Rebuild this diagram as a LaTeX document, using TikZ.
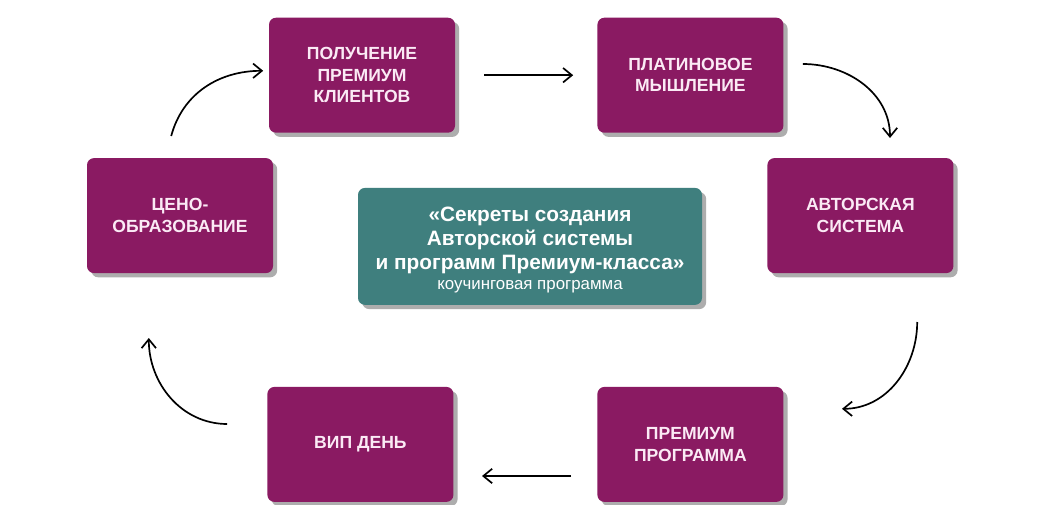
\documentclass[tikz,border=0pt]{standalone}
\usepackage{fontspec}
\setmainfont{Liberation Sans}
\usetikzlibrary{arrows.meta,shadows}
\definecolor{stepPurple}{HTML}{8A1A62}
\definecolor{coreTeal}{HTML}{3F7F7E}
\definecolor{cardText}{HTML}{FBEAF5}

\begin{document}
\begin{tikzpicture}[
  >=Straight Barb,
  stageCard/.style={rounded corners=5pt, fill=stepPurple, minimum width=4.65cm, minimum height=2.875cm,
    align=center, text=cardText, font=\fontsize{12.5}{15.2}\selectfont\bfseries,
    drop shadow={shadow xshift=3pt, shadow yshift=-3pt, fill=black!40, opacity=0.8}},
  coreCard/.style={stageCard, fill=coreTeal, minimum width=8.6cm, minimum height=2.925cm},
  coreTitle/.style={align=center, text=white, font=\fontsize{14.8}{16.8}\selectfont\bfseries},
  flow/.style={line width=1.2pt, draw=black, arrows={-{Straight Barb[length=2.2mm, width=3.6mm]}}}
]
\useasboundingbox[fill=white] (0,0) rectangle (26.4,12.6);

\node[stageCard] (clients) at (9.05,10.72) {ПОЛУЧЕНИЕ\\ПРЕМИУМ\\КЛИЕНТОВ};
\node[stageCard] (platinum) at (17.26,10.72) {ПЛАТИНОВОЕ\\МЫШЛЕНИЕ};
\node[stageCard] (author) at (21.51,7.21) {АВТОРСКАЯ\\СИСТЕМА};
\node[stageCard] (premium) at (17.26,1.49) {ПРЕМИУМ\\ПРОГРАММА};
\node[stageCard] (vipday) at (9.01,1.49) {ВИП ДЕНЬ};
\node[stageCard] (pricing) at (4.5,7.21) {ЦЕНО-\\ОБРАЗОВАНИЕ};

\node[coreCard] (core) at (13.25,6.44) {};
\node[coreTitle] (coreText) at ([yshift=-0.1cm]core.center) {«Секреты создания\\Авторской системы\\и программ Премиум-класса»\\[-2pt]
  {\fontsize{12}{14}\selectfont\mdseries коучинговая программа}};

% arrow ends
\coordinate (c1s) at (12.1,10.72);
\coordinate (c1e) at (14.33,10.72);
\coordinate (c2s) at (20.07,11.0);
\coordinate (c2e) at (22.25,9.15);
\coordinate (c3s) at (22.93,4.55);
\coordinate (c3e) at (21.05,2.38);
\coordinate (c4s) at (14.28,0.7);
\coordinate (c4e) at (12.05,0.7);
\coordinate (c5s) at (5.68,2.0);
\coordinate (c5e) at (3.72,4.15);
\coordinate (c6s) at (4.28,9.2);
\coordinate (c6e) at (6.58,10.83);

\draw[flow] (c1s) -- (c1e);
\draw[flow] (c2s) to[out=0, in=90] (c2e);
\draw[flow] (c3s) to[out=-90, in=0] (c3e);
\draw[flow] (c4s) -- (c4e);
\draw[flow] (c5s) to[out=180, in=-90] (c5e);
\draw[flow] (c6s) to[out=75, in=180] (c6e);
\end{tikzpicture}
\end{document}
